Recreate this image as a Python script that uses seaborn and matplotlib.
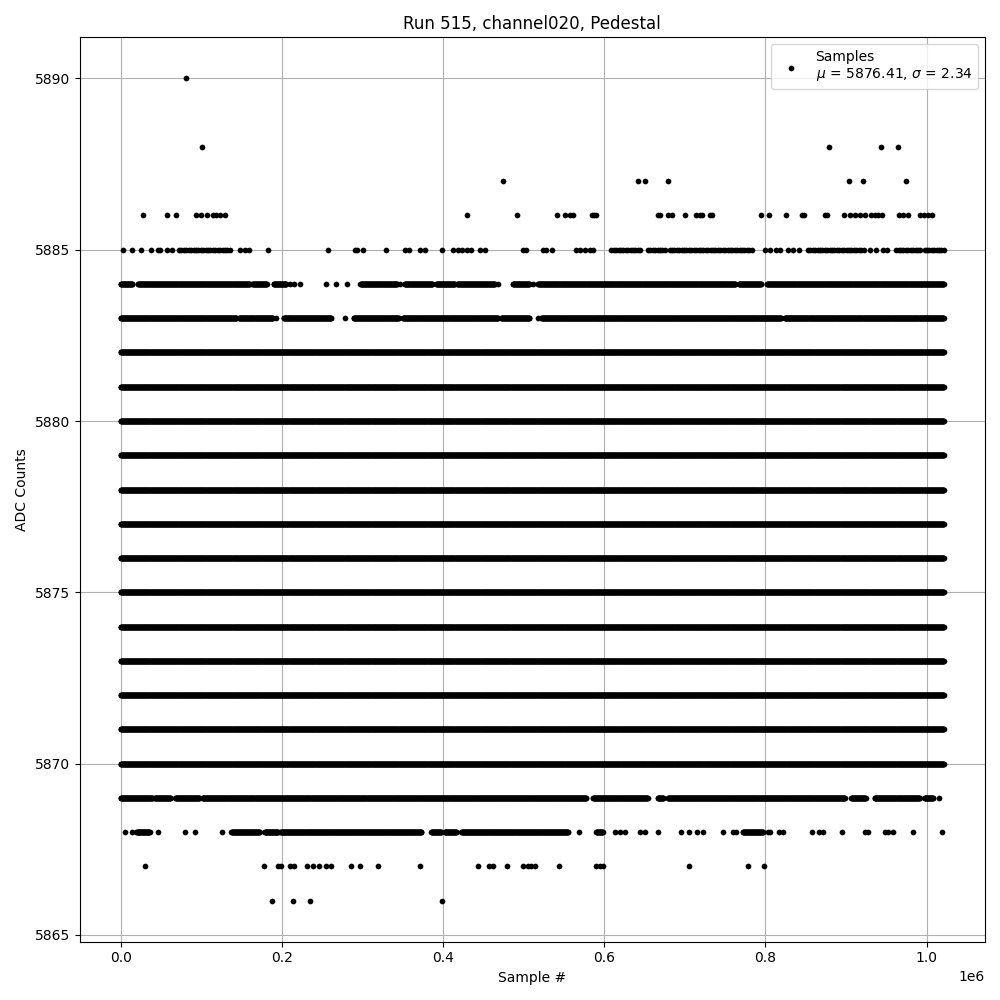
import numpy as np
import pandas as pd
import seaborn as sns
import matplotlib
matplotlib.use('Agg')
import matplotlib.pyplot as plt

# sample positions in units of 1e6 samples
# runs = stretches where the samples are packed solid, dots = single samples
last_sample = 1.0215
full_levels = [5870, 5871, 5872, 5873, 5874, 5875, 5876, 5877, 5878, 5879, 5880, 5881, 5882]

dots_5890 = [0.081]
dots_5888 = [0.1009, 0.879, 0.943, 0.965]
dots_5887 = [0.4744, 0.6414, 0.6505, 0.679, 0.9036, 0.921, 0.9743]
dots_5886 = [0.0273, 0.058, 0.0687, 0.0934, 0.1001, 0.107, 0.1141, 0.1187, 0.1228, 0.1294,
             0.4297, 0.4917, 0.5413, 0.5513, 0.557, 0.5612, 0.5844, 0.5868, 0.5902, 0.6663,
             0.6696, 0.679, 0.6845, 0.6998, 0.7142, 0.7184, 0.7208, 0.7308, 0.7341, 0.7944,
             0.8043, 0.8254, 0.8457, 0.8474, 0.8735, 0.8768, 0.8978, 0.9045, 0.9107, 0.9169,
             0.9235, 0.9305, 0.9364, 0.9401, 0.945, 0.9657, 0.9706, 0.9768, 0.9913, 0.9963,
             1.0016, 1.0066]

runs_5885 = [(0.0724, 0.1352), (0.6088, 0.646), (0.6542, 0.675), (0.6811, 0.7825),
             (0.8528, 0.921), (0.9624, 0.9913), (0.9975, 1.0215)]
dots_5885 = [0.0029, 0.0145, 0.0248, 0.0381, 0.0463, 0.0492, 0.0575, 0.0641, 0.1476, 0.1538,
             0.1592, 0.1828, 0.2572, 0.2903, 0.2932, 0.3006, 0.3292, 0.3524, 0.3573, 0.371,
             0.3772, 0.3987, 0.4123, 0.4185, 0.4239, 0.4297, 0.4351, 0.4463, 0.4516, 0.4992,
             0.5025, 0.524, 0.5273, 0.5351, 0.5654, 0.5695, 0.5757, 0.5819, 0.586, 0.799,
             0.8052, 0.8135, 0.8185, 0.8279, 0.8341, 0.8416, 0.9293, 0.9375, 0.9458, 0.9508]

runs_5884 = [(0.0, 0.0145), (0.0215, 0.16), (0.1634, 0.1815), (0.1898, 0.2055), (0.2974, 0.3428),
             (0.3524, 0.3867), (0.3916, 0.4144), (0.4177, 0.464), (0.4867, 0.5074),
             (0.5178, 0.763), (0.7672, 0.7949), (0.8019, 1.0215)]
dots_5884 = [0.2097, 0.215, 0.2221, 0.2543, 0.2667, 0.2812, 0.3462, 0.4681, 0.5116]

runs_5883 = [(0.0, 0.1435), (0.1468, 0.189), (0.2022, 0.2614), (0.2891, 0.3453), (0.3503, 0.4681),
             (0.4723, 0.5074), (0.522, 0.8197), (0.8238, 1.0215)]
dots_5883 = [0.1931, 0.2779, 0.5178]

runs_5869 = [(0.0, 0.0393), (0.0422, 0.0616), (0.0678, 0.098), (0.1013, 0.5778), (0.586, 0.6542),
             (0.6666, 0.6737), (0.679, 0.8983), (0.9065, 0.9243), (0.9355, 0.9913), (0.9975, 1.0078)]
dots_5869 = [1.0161]

runs_5868 = [(0.0195, 0.036), (0.1373, 0.1725), (0.1787, 0.1952), (0.1981, 0.3731), (0.3854, 0.3978),
             (0.402, 0.4165), (0.4227, 0.555), (0.5902, 0.5984), (0.7721, 0.7969)]
dots_5868 = [0.005, 0.0145, 0.0463, 0.0794, 0.0926, 0.1261, 0.5686, 0.6129, 0.6191, 0.6253,
             0.6439, 0.6501, 0.6666, 0.6956, 0.7051, 0.715, 0.7225, 0.7473, 0.7597, 0.7639,
             0.8031, 0.8052, 0.8168, 0.8217, 0.8582, 0.8664, 0.8714, 0.8949, 0.9231, 0.9272,
             0.9479, 0.952, 0.9582, 0.983, 1.019]

dots_5867 = [0.0306, 0.1778, 0.1952, 0.1993, 0.2105, 0.2146, 0.2312, 0.2386, 0.246, 0.2543,
             0.2614, 0.2862, 0.2974, 0.3193, 0.3718, 0.4433, 0.4566, 0.4619, 0.4793, 0.4992,
             0.5053, 0.5095, 0.5136, 0.5438, 0.5902, 0.5943, 0.5984, 0.7051, 0.7783, 0.7981]
dots_5866 = [0.1877, 0.2138, 0.2349, 0.3987]

mu = 5876.41
sigma = 2.34

# build the sample table
rows = []


def add_run(level, start, end, step=0.0005):
    for s in np.arange(start, end + step / 2, step):
        rows.append((s * 1e6, level))


def add_dots(level, xs):
    for s in xs:
        rows.append((s * 1e6, level))


for lvl in full_levels:
    add_run(lvl, 0.0, last_sample)

# the 5885 stretches are looser than the others
for a, b in runs_5885:
    add_run(5885, a, b, step=0.003)

for lvl, runs in [(5884, runs_5884), (5883, runs_5883), (5869, runs_5869), (5868, runs_5868)]:
    for a, b in runs:
        add_run(lvl, a, b)

for lvl, xs in [(5890, dots_5890), (5888, dots_5888), (5887, dots_5887), (5886, dots_5886),
                (5885, dots_5885), (5884, dots_5884), (5883, dots_5883), (5869, dots_5869),
                (5868, dots_5868), (5867, dots_5867), (5866, dots_5866)]:
    add_dots(lvl, xs)

df = pd.DataFrame(rows, columns=['sample', 'adc'])
print(len(df))

fig, ax = plt.subplots(figsize=(10, 10), dpi=100)
sns.scatterplot(data=df, x='sample', y='adc', color='black', s=17, linewidth=0,
                zorder=3, ax=ax,
                label='Samples\n$\\mu$ = %.2f, $\\sigma$ = %.2f' % (mu, sigma))
ax.grid(True)
ax.set_title('Run 515, channel020, Pedestal')
ax.set_xlabel('Sample #')
ax.set_ylabel('ADC Counts')
ax.legend(loc='upper right')
plt.tight_layout()
plt.savefig('out.png')
